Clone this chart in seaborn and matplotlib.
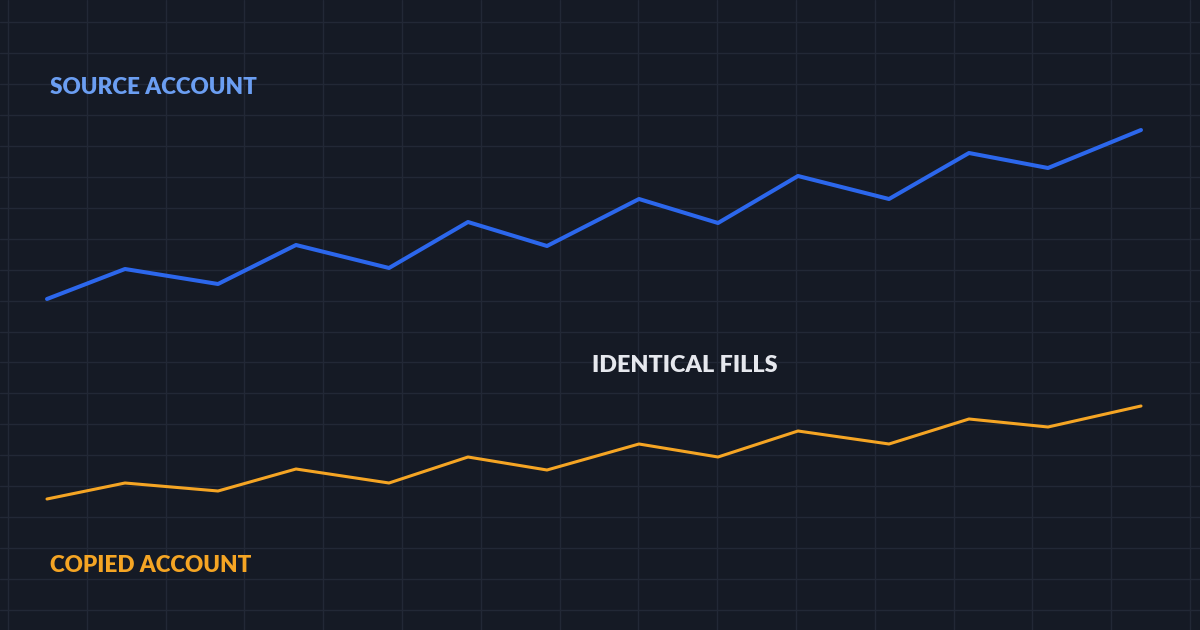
import numpy as np
import pandas as pd
import seaborn as sns
import matplotlib.pyplot as plt

# sample positions (horizontal, in canvas units) and the two equity paths
steps = [47, 125, 218, 296, 389, 468, 547, 639, 718, 798, 889, 969, 1048, 1141]
source_gain = [0, 30, 15, 54, 31, 77, 53, 100, 76, 123, 100, 146, 131, 169]
copied_gain = [0, 16, 8, 30, 16, 42, 29, 55, 42, 68, 55, 80, 72, 93]

# baselines of the two panels
source_base = 299
copied_base = 499

bg = '#151a25'
grid_col = '#222836'
blue = '#2c67ec'
orange = '#f5a524'

sns.set_style('dark', rc={'axes.facecolor': bg, 'figure.facecolor': bg,
                          'grid.color': grid_col})
plt.rcParams['font.family'] = ['Lato', 'DejaVu Sans']

df = pd.DataFrame({
    'step': steps * 2,
    'level': [source_base - g for g in source_gain] + [copied_base - g for g in copied_gain],
    'account': ['source'] * len(steps) + ['copied'] * len(steps),
})

fig = plt.figure(figsize=(12, 6.3), dpi=100)
ax = fig.add_axes([0, 0, 1, 1])

sns.lineplot(data=df[df['account'] == 'source'], x='step', y='level',
             color=blue, linewidth=2.9, ax=ax)
sns.lineplot(data=df[df['account'] == 'copied'], x='step', y='level',
             color=orange, linewidth=2.2, ax=ax)

ax.set_xlim(0, 1200)
ax.set_ylim(630, 0)

# background grid
ax.set_xticks(np.arange(8, 1200, 78.8))
ax.set_yticks(np.arange(22, 630, 30.95))
ax.grid(True, color=grid_col, linewidth=1.0)
ax.tick_params(length=0, labelbottom=False, labelleft=False)
ax.set_xlabel('')
ax.set_ylabel('')
for s in ax.spines.values():
    s.set_visible(False)

ax.text(50, 88, 'SOURCE ACCOUNT', color='#6b9ef2', fontsize=16.2,
        fontweight='heavy', va='center', ha='left')
ax.text(592, 365, 'IDENTICAL FILLS', color='#e6e8ee', fontsize=16.8,
        fontweight='heavy', va='center', ha='left')
ax.text(50, 565, 'COPIED ACCOUNT', color='#f5a524', fontsize=16.2,
        fontweight='heavy', va='center', ha='left')

fig.savefig('out.png', dpi=100, facecolor=bg)
